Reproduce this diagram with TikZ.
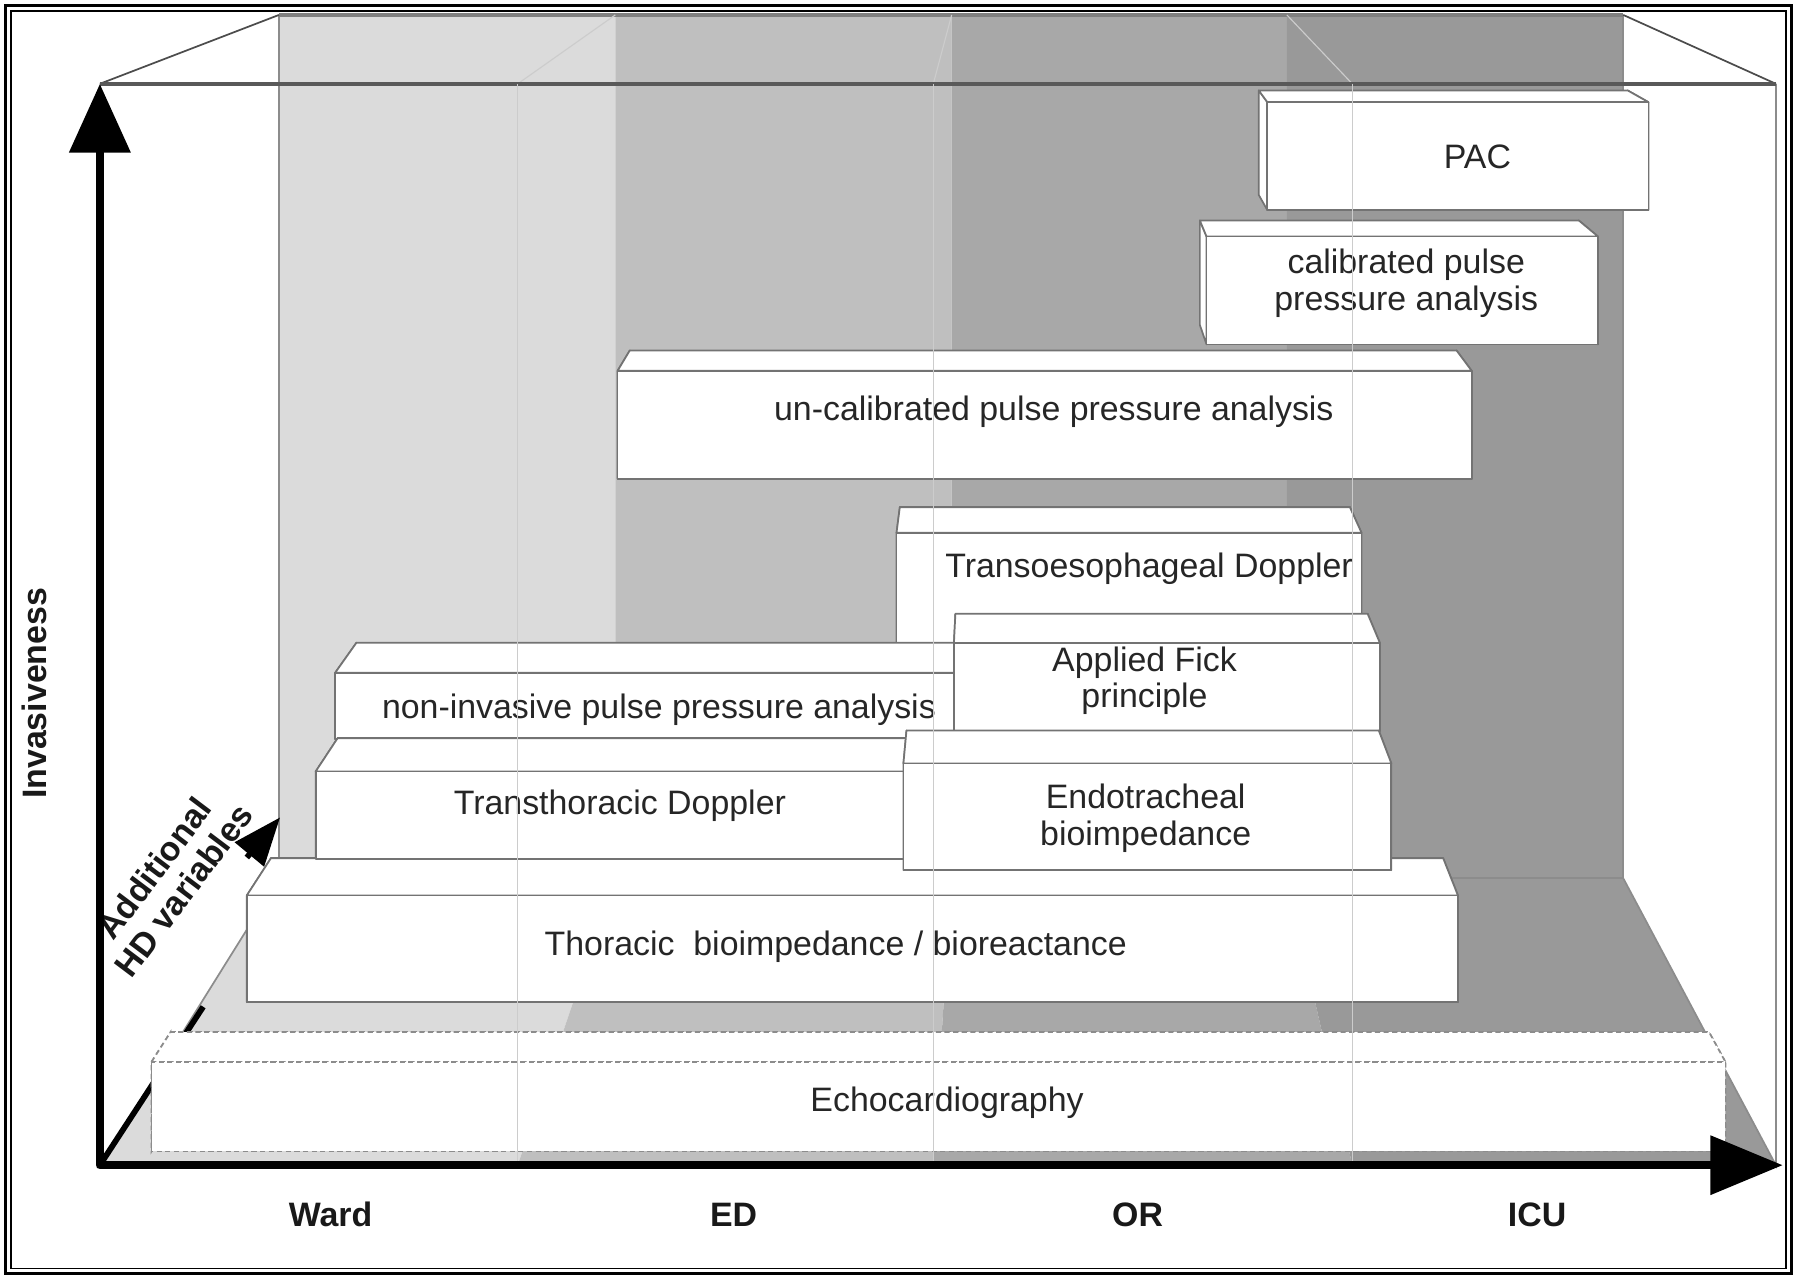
\documentclass[tikz,border=0pt]{standalone}
\usepackage{fontspec}
\setmainfont{Liberation Sans}
\usepackage{xcolor}
\usetikzlibrary{arrows.meta, calc}

\definecolor{wardgray}{gray}{0.86}
\definecolor{edgray}{gray}{0.75}
\definecolor{orgray}{gray}{0.66}
\definecolor{icugray}{gray}{0.60}

\newcommand{\boxfont}{\fontsize{8.4}{9.1}\selectfont}

% block seen in perspective: back face shrunk towards (vp)
\newcommand{\hdbox}[6][0.968]{%
  \coordinate (#2-a) at (#3,#4);
  \coordinate (#2-b) at (#5,#4);
  \coordinate (#2-c) at (#5,#6);
  \coordinate (#2-d) at (#3,#6);
  \coordinate (#2-ba) at ($(vp)!#1!(#2-a)$);
  \coordinate (#2-bb) at ($(vp)!#1!(#2-b)$);
  \coordinate (#2-bc) at ($(vp)!#1!(#2-c)$);
  \coordinate (#2-bd) at ($(vp)!#1!(#2-d)$);
  \filldraw[face] (#2-ba) -- (#2-bb) -- (#2-bc) -- (#2-bd) -- cycle;
  \filldraw[face] (#2-a) -- (#2-ba) -- (#2-bd) -- (#2-d) -- cycle;
  \filldraw[face] (#2-b) -- (#2-bb) -- (#2-bc) -- (#2-c) -- cycle;
  \filldraw[face] (#2-a) -- (#2-ba) -- (#2-bb) -- (#2-b) -- cycle;
  \filldraw[face] (#2-a) rectangle (#2-c);
}

\begin{document}
\begin{tikzpicture}[
    x=0.1mm, y=-0.1mm,
    face/.style={fill=white, draw=black!55, line width=0.15mm, line join=round},
    lbl/.style={font=\boxfont, text=black!85, align=center, inner sep=0pt},
    axlbl/.style={font=\boxfont\bfseries, text=black!90, align=center, inner sep=0pt},
    wall/.style={draw=black!45, line width=0.15mm},
    glass/.style={draw=black!20, line width=0.1mm},
    axis/.style={line width=0.75mm, line join=round}
]
\useasboundingbox (0,0) rectangle (1568,1110);

\draw[line width=0.26mm] (4.5,4.5) rectangle (1561,1109);
\draw[line width=0.13mm] (9.5,9.5) rectangle (1556,1105);

\coordinate (vp) at (870,-230);
\coordinate (btl) at (243,13);
\coordinate (btr) at (1414,13);
\coordinate (bbl) at (243,765);
\coordinate (bbr) at (1414,765);
\coordinate (ftl) at (87,73);
\coordinate (ftr) at (1547,73);
\coordinate (o) at (87,1015);
\coordinate (fbr) at (1547,1015);
\coordinate (xtip) at (1553,1015);

% wall and floor of each setting
\foreach \bl/\br/\fl/\fr/\col in {243/536/87/451/wardgray, 536/829/451/813/edgray,
    829/1121/813/1178/orgray, 1121/1414/1178/1547/icugray}
  \fill[\col] (\bl,13) -- (\br,13) -- (\br,765) -- (\fr,1015) -- (\fl,1015) -- (\bl,765) -- cycle;

\draw[wall] (btl) -- (bbl) -- (bbr) -- (btr);
\draw[black!50, line width=0.3mm] (btl) -- (btr);
\draw[wall] (bbl) -- (o) (bbr) -- (fbr) -- (ftr);
\draw[black!70, line width=0.15mm] (ftl) -- (btl) (ftr) -- (btr);
\foreach \f/\b in {451/536, 813/829, 1178/1121}
  \draw[glass] (\f,73) -- (\b,13);
\draw[black!65, line width=0.3mm] (ftl) -- (ftr);

% third axis
\coordinate (hdbend) at (177,877);
\coordinate (hdbase) at (215,747);
\coordinate (hdtip) at (244,712);
\draw[line width=0.5mm] (o) -- (hdbend);
\draw[line width=0.5mm, -{Triangle[length=4.2mm, width=3.2mm]}] (hdbase) -- (hdtip);
\node[axlbl, rotate=53] (hdvar) at (147,766) {Additional\\HD variables};

\begin{scope}[face/.style={fill=white, draw=black!45, line width=0.15mm, dash pattern=on 0.45mm off 0.3mm}]
\hdbox[0.9775]{echo}{132}{925}{1503}{1003}
\end{scope}
\node[lbl] (echo-txt) at (825,961) {Echocardiography};

\hdbox{thor}{215}{780}{1270}{873}
\node[lbl] (thor-txt) at (728,825) {Thoracic\ \ bioimpedance / bioreactance};

\hdbox{ucal}{538}{323}{1282}{417}
\node[lbl] (ucal-txt) at (918,359) {un-calibrated pulse pressure analysis};

\hdbox{cal}{1051}{206}{1392}{300}
\node[lbl] (cal-txt) at (1225,247) {calibrated pulse\\pressure analysis};

\hdbox{pac}{1104}{89}{1436}{183}
\node[lbl] (pac-txt) at (1287,137) {PAC};

\hdbox{tee}{781}{464}{1186}{580}
\node[lbl] (tee-txt) at (1001,495) {Transoesophageal Doppler};

\hdbox{nipp}{292}{586}{856}{644}
\node[lbl] (nipp-txt) at (574,618) {non-invasive pulse pressure analysis};

\hdbox{ttd}{275}{672}{805}{748}
\node[lbl] (ttd-txt) at (540,702) {Transthoracic Doppler};

\hdbox{fick}{831}{560}{1202}{637}
\node[lbl] (fick-txt) at (997,593) {Applied Fick\\principle};

\hdbox{etb}{787}{665}{1212}{758}
\node[lbl] (etb-txt) at (998,713) {Endotracheal\\bioimpedance};

% front plane
\foreach \f in {451, 813, 1178}
  \draw[glass] (\f,73) -- (\f,1015);

\draw[axis, {Triangle[length=6mm, width=5.2mm]}-{Triangle[length=6.3mm, width=5mm]}]
  (ftl) -- (o) -- (xtip);

\node[axlbl, rotate=90] (inv) at (30,604) {Invasiveness};
\foreach \x/\t/\n in {288/Ward/ward, 639/ED/ed, 991/OR/or, 1339/ICU/icu}
  \node[axlbl] (\n) at (\x,1058) {\t};
\end{tikzpicture}
\end{document}
